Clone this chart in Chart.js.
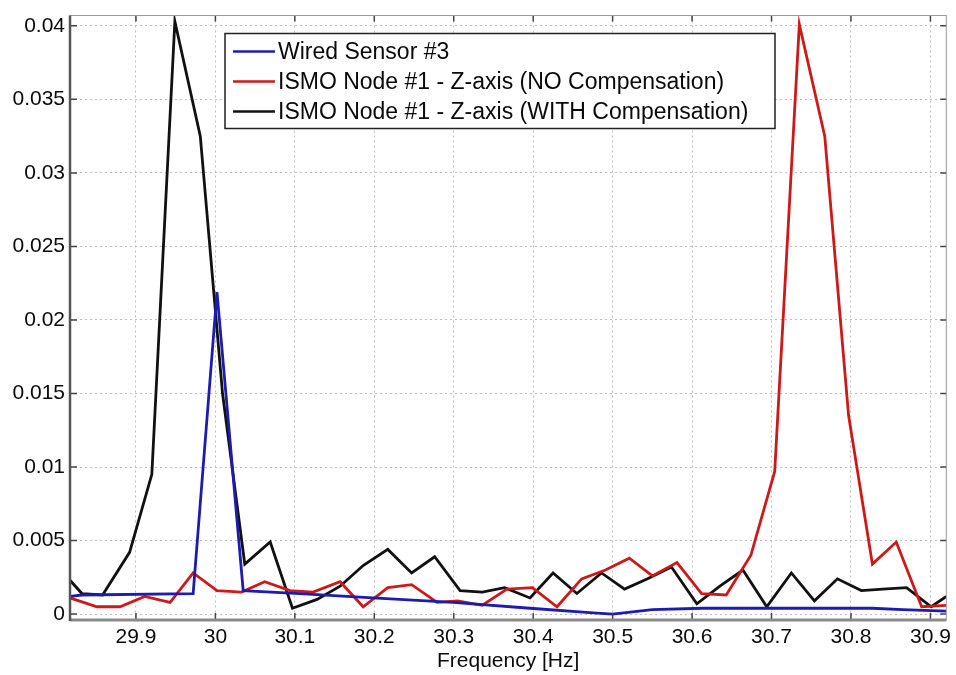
<!DOCTYPE html>
<html lang="en">
<head>
  <meta charset="UTF-8" />
  <title>Frequency spectrum - Wired Sensor vs ISMO Node</title>
  <style>
    body {
      margin: 0;
      background: #fff;
    }
    #wrap {
      width: 956px;
      height: 675px;
      position: relative;
    }
  </style>
</head>
<body>
  <div id="wrap">
    <canvas id="spectrum" aria-label="Frequency spectrum chart" role="img"></canvas>
  </div>

  <script src="https://cdn.jsdelivr.net/npm/chart.js"></script>
  <script>
    const seriesLabels = [
      'Wired Sensor #3',
      'ISMO Node #1 - Z-axis (NO Compensation)',
      'ISMO Node #1 - Z-axis (WITH Compensation)'
    ];

    // Wired sensor #3
    const wiredFreq = [29.817, 29.832, 29.972, 30.002, 30.035, 30.106, 30.198, 30.299, 30.396,
      30.471, 30.500, 30.550, 30.613, 30.827, 30.865, 30.920];
    const wiredAmp = [0.0012, 0.0013, 0.0014, 0.0219, 0.0016, 0.0014, 0.0011, 0.0008, 0.0004,
      0.0001, 0.0000, 0.0003, 0.0004, 0.0004, 0.0003, 0.0002];

    // ISMO node, no compensation
    const noCompFreq = [29.817, 29.851, 29.880, 29.911, 29.943, 29.972, 30.002, 30.033, 30.062,
      30.094, 30.123, 30.157, 30.186, 30.217, 30.247, 30.279, 30.305, 30.336, 30.367, 30.399,
      30.430, 30.461, 30.491, 30.521, 30.550, 30.581, 30.612, 30.643, 30.674, 30.704, 30.735,
      30.767, 30.797, 30.827, 30.857, 30.889, 30.920];
    const noCompAmp = [0.0011, 0.0005, 0.0005, 0.0012, 0.0008, 0.0028, 0.0016, 0.0015, 0.0022,
      0.0016, 0.0015, 0.0022, 0.0005, 0.0018, 0.0020, 0.0008, 0.0009, 0.0006, 0.0017, 0.0018,
      0.0005, 0.0024, 0.0030, 0.0038, 0.0026, 0.0035, 0.0014, 0.0013, 0.0040, 0.0097, 0.0401,
      0.0325, 0.0135, 0.0034, 0.0049, 0.0005, 0.0006];

    // ISMO node, with compensation
    const withCompFreq = [29.817, 29.832, 29.858, 29.892, 29.920, 29.949, 29.981, 30.009, 30.037,
      30.069, 30.097, 30.128, 30.157, 30.186, 30.217, 30.247, 30.276, 30.308, 30.336, 30.364,
      30.396, 30.425, 30.455, 30.486, 30.515, 30.544, 30.574, 30.606, 30.635, 30.664, 30.694,
      30.725, 30.754, 30.783, 30.813, 30.840, 30.870, 30.901, 30.920];
    const withCompAmp = [0.0023, 0.0014, 0.0013, 0.0042, 0.0095, 0.0403, 0.0325, 0.0150, 0.0034,
      0.0049, 0.0004, 0.0010, 0.0019, 0.0033, 0.0044, 0.0028, 0.0039, 0.0016, 0.0015, 0.0018,
      0.0011, 0.0028, 0.0014, 0.0028, 0.0017, 0.0024, 0.0032, 0.0007, 0.0019, 0.0030, 0.0005,
      0.0028, 0.0009, 0.0024, 0.0016, 0.0017, 0.0018, 0.0005, 0.0012];

    const xTicks = [29.9, 30, 30.1, 30.2, 30.3, 30.4, 30.5, 30.6, 30.7, 30.8, 30.9];
    const yTicks = [0, 0.005, 0.01, 0.015, 0.02, 0.025, 0.03, 0.035, 0.04];

    const FONT = '"Liberation Sans", Arial, sans-serif';

    function toPoints(xs, ys) {
      return xs.map((f, i) => ({ x: f, y: ys[i] }));
    }

    // MATLAB style frame: box, inward ticks
    const frame = {
      id: 'frame',
      afterDatasetsDraw(chart) {
        const { ctx, chartArea: a, scales: { x, y } } = chart;
        ctx.save();
        ctx.strokeStyle = '#444';
        ctx.lineWidth = 1.5;
        ctx.beginPath();
        xTicks.forEach(v => {
          const px = x.getPixelForValue(v);
          ctx.moveTo(px, a.bottom);
          ctx.lineTo(px, a.bottom - 7);
          ctx.moveTo(px, a.top);
          ctx.lineTo(px, a.top + 6);
        });
        yTicks.forEach(v => {
          const py = y.getPixelForValue(v);
          ctx.moveTo(a.left, py);
          ctx.lineTo(a.left + 7, py);
          ctx.moveTo(a.right, py);
          ctx.lineTo(a.right - 6, py);
        });
        ctx.stroke();

        ctx.strokeStyle = '#9a9a9a';
        ctx.lineWidth = 1;
        ctx.strokeRect(a.left, a.top, a.right - a.left, a.bottom - a.top);

        ctx.strokeStyle = '#8a8a8a';
        ctx.lineWidth = 3;
        ctx.beginPath();
        ctx.moveTo(a.left, a.bottom);
        ctx.lineTo(a.right, a.bottom);
        ctx.stroke();

        ctx.strokeStyle = '#555';
        ctx.lineWidth = 2.5;
        ctx.beginPath();
        ctx.moveTo(a.left, a.top);
        ctx.lineTo(a.left, a.bottom + 1);
        ctx.stroke();
        ctx.restore();
      }
    };

    // boxed legend inside the plot, like MATLAB's
    const boxLegend = {
      id: 'boxLegend',
      afterDatasetsDraw(chart) {
        const { ctx, chartArea: a } = chart;
        const left = a.left + 155, top = a.top + 18, w = 550, h = 95;
        ctx.save();
        ctx.fillStyle = '#fff';
        ctx.fillRect(left, top, w, h);
        ctx.strokeStyle = '#222';
        ctx.lineWidth = 1.5;
        ctx.strokeRect(left, top, w, h);
        ctx.font = '23px ' + FONT;
        ctx.textBaseline = 'middle';
        chart.data.datasets.forEach((ds, i) => {
          const yy = top + 18 + i * 30;
          ctx.strokeStyle = ds.borderColor;
          ctx.lineWidth = 2.5;
          ctx.beginPath();
          ctx.moveTo(left + 8, yy);
          ctx.lineTo(left + 50, yy);
          ctx.stroke();
          ctx.fillStyle = '#0a0a0a';
          ctx.fillText(ds.label, left + 53, yy + 1);
        });
        ctx.restore();
      }
    };

    const ctx = document.getElementById('spectrum').getContext('2d');
    new Chart(ctx, {
      type: 'line',
      data: {
        datasets: [
          {
            label: seriesLabels[0],
            data: toPoints(wiredFreq, wiredAmp),
            borderColor: '#1c1cb0',
            borderWidth: 2.8,
            order: 1
          },
          {
            label: seriesLabels[1],
            data: toPoints(noCompFreq, noCompAmp),
            borderColor: '#cc1a1a',
            borderWidth: 2.8,
            order: 2
          },
          {
            label: seriesLabels[2],
            data: toPoints(withCompFreq, withCompAmp),
            borderColor: '#111111',
            borderWidth: 2.8,
            order: 3
          }
        ]
      },
      options: {
        responsive: true,
        maintainAspectRatio: false,
        animation: false,
        devicePixelRatio: 1,
        layout: { padding: { left: 0, right: 8, top: 12, bottom: 0 } },
        elements: {
          point: { radius: 0, hoverRadius: 0 },
          line: { tension: 0, fill: false }
        },
        scales: {
          x: {
            type: 'linear',
            min: 29.817,
            max: 30.92,
            afterBuildTicks: s => { s.ticks = xTicks.map(v => ({ value: v })); },
            afterFit: s => { s.height = 55; },
            ticks: {
              color: '#0a0a0a',
              font: { family: FONT, size: 21 },
              padding: 5,
              maxRotation: 0,
              callback: v => String(Number(v.toFixed(1)))
            },
            grid: { color: '#bdbdbd', lineWidth: 1, drawTicks: false },
            border: { display: false, dash: [2, 3] },
            title: {
              display: true,
              text: 'Frequency [Hz]',
              color: '#0a0a0a',
              font: { family: FONT, size: 21 },
              padding: { top: 0, bottom: 1 }
            }
          },
          y: {
            min: -0.0004,
            max: 0.0407,
            afterBuildTicks: s => { s.ticks = yTicks.map(v => ({ value: v })); },
            afterFit: s => { s.width = 70; },
            ticks: {
              color: '#0a0a0a',
              font: { family: FONT, size: 21, lineHeight: 1 },
              padding: 5,
              callback: v => v === 0 ? '0' : String(Number(v.toFixed(3)))
            },
            grid: { color: '#bdbdbd', lineWidth: 1, drawTicks: false },
            border: { display: false, dash: [2, 3] }
          }
        },
        plugins: {
          legend: { display: false },
          tooltip: { enabled: false }
        }
      },
      plugins: [frame, boxLegend]
    });
  </script>
</body>
</html>
